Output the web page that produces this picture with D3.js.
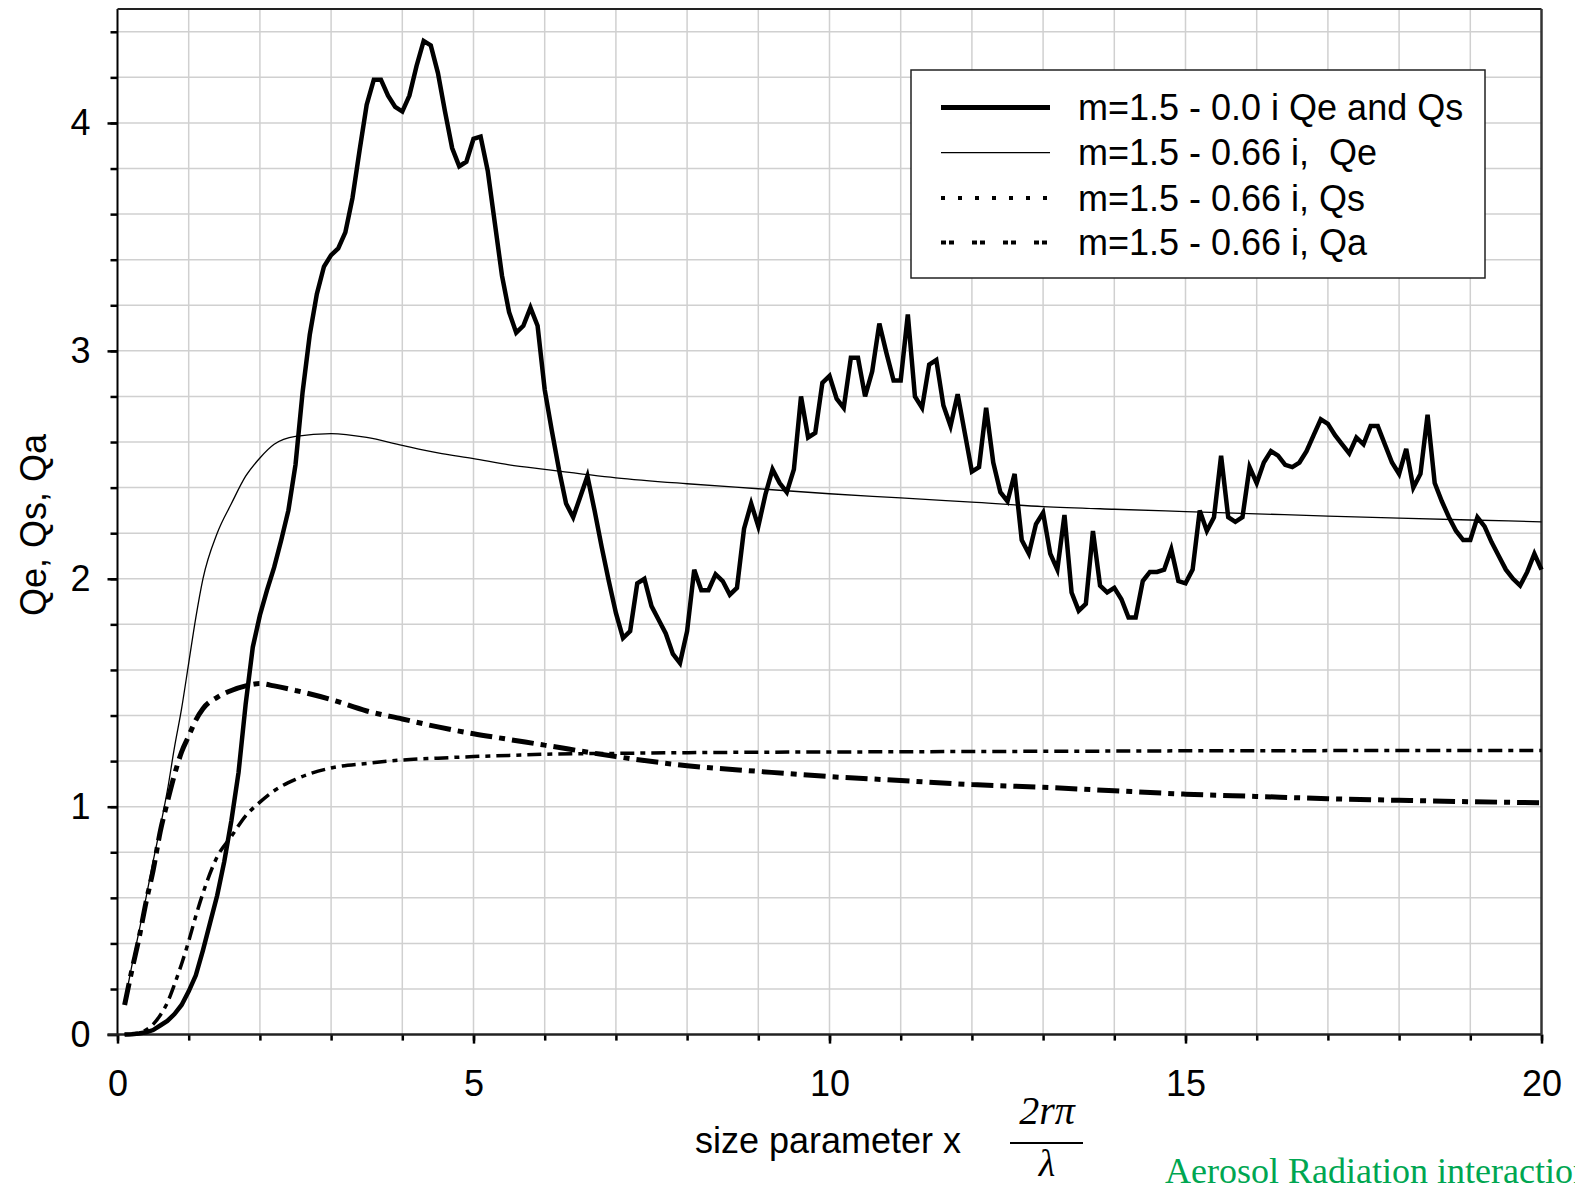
<!DOCTYPE html>
<html>
<head>
<meta charset="utf-8">
<style>
  body { margin: 0; background: #fff; }
  text { font-family: "Liberation Sans", Arial, sans-serif; fill: #000; }
</style>
<script src="https://cdn.jsdelivr.net/npm/d3@7"></script>
</head>
<body>
<script>
// m = 1.5 - 0.0i, Qe (= Qs), sampled every 0.1 from x = 0.1 to 20
var nonAbsStep = 0.1;
var qeNonAbs = [
  0.00, 0.002, 0.005, 0.01, 0.02, 0.04, 0.06, 0.09, 0.13, 0.19,
  0.26, 0.37, 0.49, 0.61, 0.76, 0.94, 1.15, 1.45, 1.70, 1.84,
  1.95, 2.05, 2.17, 2.30, 2.50, 2.82, 3.07, 3.25, 3.37, 3.42,
  3.45, 3.52, 3.67, 3.88, 4.08, 4.19, 4.19, 4.12, 4.07, 4.05,
  4.12, 4.25, 4.36, 4.34, 4.22, 4.05, 3.89, 3.81, 3.83, 3.93,
  3.94, 3.79, 3.56, 3.33, 3.17, 3.08, 3.11, 3.19, 3.11, 2.83,
  2.65, 2.48, 2.33, 2.27, 2.36, 2.45, 2.30, 2.14, 1.99, 1.85,
  1.74, 1.77, 1.98, 2.00, 1.88, 1.82, 1.76, 1.67, 1.63, 1.77,
  2.04, 1.95, 1.95, 2.02, 1.99, 1.93, 1.96, 2.22, 2.33, 2.23,
  2.37, 2.48, 2.42, 2.38, 2.48, 2.80, 2.62, 2.64, 2.86, 2.89,
  2.79, 2.75, 2.97, 2.97, 2.80, 2.91, 3.12, 2.99, 2.87, 2.87,
  3.16, 2.80, 2.75, 2.94, 2.96, 2.76, 2.67, 2.81, 2.64, 2.47,
  2.49, 2.75, 2.51, 2.38, 2.34, 2.46, 2.17, 2.11, 2.24, 2.29,
  2.11, 2.04, 2.28, 1.94, 1.86, 1.89, 2.21, 1.97, 1.94, 1.96,
  1.91, 1.83, 1.83, 1.99, 2.03, 2.03, 2.04, 2.13, 1.99, 1.98,
  2.04, 2.30, 2.21, 2.27, 2.54, 2.27, 2.25, 2.27, 2.49, 2.42,
  2.51, 2.56, 2.54, 2.50, 2.49, 2.51, 2.56, 2.63, 2.70, 2.68,
  2.63, 2.59, 2.55, 2.62, 2.59, 2.67, 2.67, 2.59, 2.51, 2.46,
  2.57, 2.40, 2.46, 2.72, 2.42, 2.34, 2.27, 2.21, 2.17, 2.17,
  2.27, 2.23, 2.16, 2.10, 2.04, 2.00, 1.97, 2.03, 2.11, 2.04
];

// m = 1.5 - 0.66i
var xAbs = [0.1, 0.2, 0.3, 0.4, 0.5, 0.6, 0.7, 0.8, 0.9, 1.0, 1.1, 1.2, 1.4, 1.6, 1.8, 2.0, 2.2, 2.5,
            3, 3.5, 4, 4.5, 5, 5.5, 6, 7, 8, 9, 10, 11, 12, 13, 14, 15, 16, 17, 18, 19, 20];
var qeAbs = [0.14, 0.30, 0.45, 0.60, 0.76, 0.91, 1.07, 1.26, 1.43, 1.63, 1.83, 2.00, 2.20, 2.33, 2.45, 2.53, 2.59, 2.625,
             2.637, 2.62, 2.585, 2.552, 2.527, 2.50, 2.48, 2.443, 2.417, 2.395, 2.373, 2.355, 2.336, 2.317, 2.305, 2.295, 2.285, 2.275, 2.266, 2.258, 2.25];
var qsAbs = [0.0, 0.002, 0.006, 0.02, 0.045, 0.085, 0.14, 0.22, 0.31, 0.41, 0.52, 0.62, 0.78, 0.87, 0.96, 1.02, 1.07, 1.12,
             1.17, 1.19, 1.205, 1.213, 1.22, 1.225, 1.23, 1.234, 1.237, 1.239, 1.24, 1.241, 1.242, 1.243, 1.244, 1.245, 1.245, 1.246, 1.246, 1.246, 1.246];
var qaAbs = [0.13, 0.28, 0.42, 0.58, 0.72, 0.89, 1.02, 1.14, 1.24, 1.31, 1.38, 1.43, 1.48, 1.51, 1.53, 1.54, 1.53, 1.51,
             1.47, 1.42, 1.385, 1.35, 1.32, 1.295, 1.27, 1.22, 1.18, 1.155, 1.132, 1.115, 1.097, 1.085, 1.07, 1.055, 1.045, 1.035, 1.028, 1.022, 1.017];

var xMajorTicks = [0, 5, 10, 15, 20];
var yMajorTicks = [0, 1, 2, 3, 4];
var legendLabels = ["m=1.5 - 0.0 i Qe and Qs", "m=1.5 - 0.66 i,  Qe", "m=1.5 - 0.66 i, Qs", "m=1.5 - 0.66 i, Qa"];

var W = 1575, H = 1187;
var pLeft = 117.5, pRight = 1541.5, pTop = 9, pBottom = 1034.6;

var svg = d3.select("body").append("svg")
  .attr("width", W).attr("height", H);

var x = d3.scaleLinear().domain([0, 20]).range([pLeft, pRight]);
var y = d3.scaleLinear().domain([0, 4.5]).range([pBottom, pTop]);

// grid
var xGrid = d3.range(1, 20);
var yGrid = d3.range(1, 23).map(function (i) { return +(i * 0.2).toFixed(1); });
var grid = svg.append("g").attr("stroke", "#d0d0d0").attr("stroke-width", 1.5);
grid.selectAll(".gx").data(xGrid).enter().append("line")
  .attr("x1", function (d) { return x(d); }).attr("x2", function (d) { return x(d); })
  .attr("y1", pTop).attr("y2", pBottom);
grid.selectAll(".gy").data(yGrid).enter().append("line")
  .attr("x1", pLeft).attr("x2", pRight)
  .attr("y1", function (d) { return y(d); }).attr("y2", function (d) { return y(d); });

// axes
var yMinor = svg.append("g").attr("transform", "translate(" + pLeft + ",0)")
  .call(d3.axisLeft(y).tickValues(yGrid).tickSize(7).tickFormat("").tickSizeOuter(0));
var yMajor = svg.append("g").attr("transform", "translate(" + pLeft + ",0)")
  .call(d3.axisLeft(y).tickValues(yMajorTicks).tickSize(10).tickPadding(17).tickFormat(d3.format("d")).tickSizeOuter(0));
var xMinor = svg.append("g").attr("transform", "translate(0," + pBottom + ")")
  .call(d3.axisBottom(x).tickValues(d3.range(0, 21)).tickSize(6).tickFormat("").tickSizeOuter(0));
var xMajor = svg.append("g").attr("transform", "translate(0," + pBottom + ")")
  .call(d3.axisBottom(x).tickValues(xMajorTicks).tickSize(9).tickPadding(27).tickFormat(d3.format("d")).tickSizeOuter(0));

[yMinor, yMajor, xMinor, xMajor].forEach(function (g) {
  g.select(".domain").remove();
  g.selectAll("line").attr("stroke", "#000").attr("stroke-width", 2.5);
  g.selectAll("text").style("font-size", "36px").attr("fill", "#000");
});

// frame
svg.append("line").attr("x1", pLeft).attr("x2", pLeft).attr("y1", pTop).attr("y2", pBottom)
  .attr("stroke", "#000").attr("stroke-width", 2);
svg.append("line").attr("x1", pLeft - 10).attr("x2", pRight).attr("y1", pBottom).attr("y2", pBottom)
  .attr("stroke", "#222").attr("stroke-width", 2.5);
svg.append("line").attr("x1", pLeft).attr("x2", pRight).attr("y1", pTop).attr("y2", pTop)
  .attr("stroke", "#222").attr("stroke-width", 2);
svg.append("line").attr("x1", pRight).attr("x2", pRight).attr("y1", pTop).attr("y2", pBottom)
  .attr("stroke", "#333").attr("stroke-width", 2.5);

// series
var plot = svg.append("g");
var thickData = qeNonAbs.map(function (v, i) { return [(i + 1) * nonAbsStep, v]; });
var line = d3.line().x(function (d) { return x(d[0]); }).y(function (d) { return y(d[1]); });
var smooth = d3.line().curve(d3.curveMonotoneX).x(function (d) { return x(d[0]); }).y(function (d) { return y(d[1]); });
function pairs(vals) { return xAbs.map(function (v, i) { return [v, vals[i]]; }); }

var styles = [
  { w: 4.5, dash: null },
  { w: 1.3, dash: null },
  { w: 3.5, dash: "14,6,5,6" },
  { w: 5, dash: "22,7,6,7" }
];

plot.append("path").datum(pairs(qeAbs)).attr("d", smooth)
  .attr("fill", "none").attr("stroke", "#000").attr("stroke-width", styles[1].w);
plot.append("path").datum(pairs(qsAbs)).attr("d", smooth)
  .attr("fill", "none").attr("stroke", "#000").attr("stroke-width", styles[2].w)
  .attr("stroke-dasharray", styles[2].dash);
plot.append("path").datum(pairs(qaAbs)).attr("d", smooth)
  .attr("fill", "none").attr("stroke", "#000").attr("stroke-width", styles[3].w)
  .attr("stroke-dasharray", styles[3].dash);
plot.append("path").datum(thickData).attr("d", line)
  .attr("fill", "none").attr("stroke", "#000").attr("stroke-width", styles[0].w)
  .attr("stroke-linejoin", "miter");

// legend
var lg = svg.append("g");
lg.append("rect").attr("x", 911).attr("y", 70).attr("width", 574).attr("height", 208)
  .attr("fill", "#fff").attr("stroke", "#222").attr("stroke-width", 1.5);
var legendDash = [null, null, "4,13", "5,3,5,18"];
var rowY = [107.5, 152.7, 198, 242.5];
legendLabels.forEach(function (t, i) {
  lg.append("line").attr("x1", 941).attr("x2", 1050).attr("y1", rowY[i]).attr("y2", rowY[i])
    .attr("stroke", "#000").attr("stroke-width", i === 0 ? 5 : (i === 1 ? 1.3 : 4))
    .attr("stroke-dasharray", legendDash[i]);
  lg.append("text").attr("x", 1078).attr("y", rowY[i]).attr("dy", "0.35em")
    .style("font-size", "36px").style("white-space", "pre").text(t);
});

// axis titles
svg.append("text").attr("transform", "translate(46,525) rotate(-90)")
  .attr("text-anchor", "middle").style("font-size", "36px").text("Qe, Qs, Qa");
svg.append("text").attr("x", 828).attr("y", 1153).attr("text-anchor", "middle")
  .style("font-size", "36px").text("size parameter x");

// fraction 2rπ / λ
var frac = svg.append("g").style("font-family", "'Liberation Serif', 'Times New Roman', serif");
frac.append("text").attr("x", 1047).attr("y", 1124).attr("text-anchor", "middle")
  .style("font-family", "inherit").style("font-style", "italic").style("font-size", "40px").text("2rπ");
frac.append("line").attr("x1", 1010).attr("x2", 1083).attr("y1", 1143).attr("y2", 1143)
  .attr("stroke", "#000").attr("stroke-width", 2);
frac.append("text").attr("x", 1047).attr("y", 1176).attr("text-anchor", "middle")
  .style("font-family", "inherit").style("font-style", "italic").style("font-size", "38px").text("λ");

svg.append("text").attr("x", 1165).attr("y", 1183)
  .style("font-family", "'Liberation Serif', 'Times New Roman', serif").style("font-size", "36px")
  .style("fill", "#00a651").text("Aerosol Radiation interaction");
</script>
</body>
</html>
